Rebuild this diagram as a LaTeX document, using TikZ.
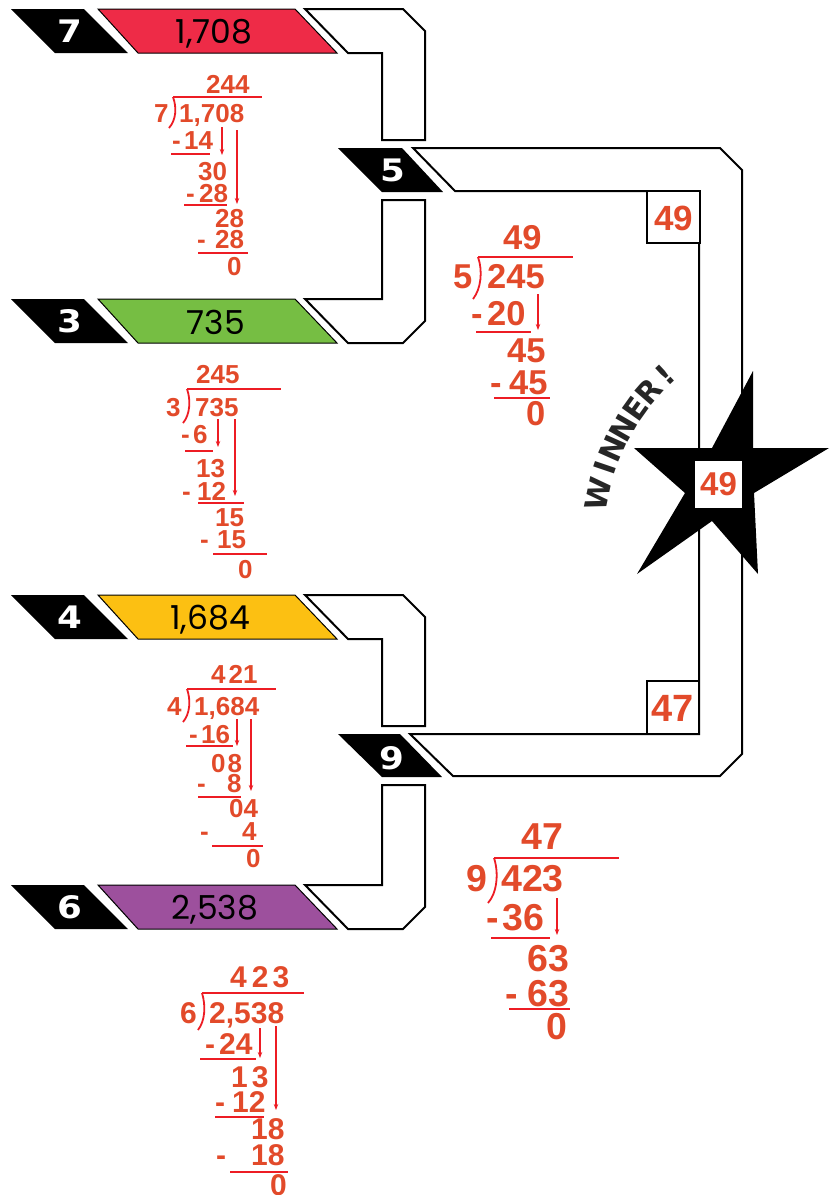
\documentclass[tikz,border=0pt]{standalone}
\usepackage{fontspec}
\setmainfont{Liberation Sans}
\newfontfamily\bandfont{Poppins}
\newfontfamily\tabfont[FakeStretch=1.15]{DejaVu Sans}
\newfontfamily\winfont{DejaVu Sans}
\usetikzlibrary{arrows.meta}
\definecolor{bandred}{RGB}{238,43,71}
\definecolor{bandgreen}{RGB}{118,190,67}
\definecolor{bandyellow}{RGB}{252,192,18}
\definecolor{bandpurple}{RGB}{157,80,157}
\definecolor{divtxt}{RGB}{226,74,42}
\definecolor{divline}{RGB}{237,28,36}
\begin{document}
\begin{tikzpicture}[x=1pt,y=-1pt,
  pipe/.style={draw=black, line width=2pt, fill=white, line join=miter},
  tabshape/.style={fill=black},
  band/.style={draw=black, line width=1pt},
  tabnum/.style={text=white, font=\tabfont\bfseries\fontsize{31}{31}\selectfont, inner sep=0pt},
  bandnum/.style={text=black, font=\bandfont\fontsize{33}{33}\selectfont, inner sep=0pt, anchor=base},
  dA/.style={text=divtxt, inner sep=0pt, anchor=base west, font=\bfseries\fontsize{26}{26}\selectfont},
  dB/.style={dA, font=\bfseries\fontsize{30}{30}\selectfont},
  dC/.style={dA, font=\bfseries\fontsize{34.5}{34.5}\selectfont},
  dD/.style={dA, font=\bfseries\fontsize{37.5}{37.5}\selectfont},
  divrule/.style={draw=divline, line width=2.6pt},
  overbar/.style={draw=divline, line width=2pt},
  brk/.style={draw=divline, line width=1.8pt},
  dar/.style={draw=divline, line width=1.3pt, -{Stealth[length=6pt,width=4.5pt]}},
  ansbox/.style={draw=black, line width=1.5pt, fill=white},
  boxnum/.style={text=divtxt, font=\bfseries\fontsize{35}{35}\selectfont, inner sep=0pt},
  winl/.style={text=black!85, font=\winfont\bfseries\fontsize{30}{30}\selectfont, inner sep=0pt}
]
\useasboundingbox (0,0) rectangle (832,1195);

% ---------- right bracket ----------
\draw[pipe] (413,148) -- (720,148) -- (742,170) -- (742,754) -- (720,776) -- (453,776) -- (410,734) -- (699,734) -- (699,191) -- (455,191) -- cycle;
\draw[ansbox] (647,191) rectangle (700,243);
\node[boxnum] (b49) at (673.5,218) {49};
\draw[ansbox] (647,681) rectangle (699,734);
\node[boxnum, font=\bfseries\fontsize{38}{38}\selectfont] (b47) at (673,708.5) {47};

% star
\fill[black] (753,371) -- (753,448) -- (829,448) -- (754,493) -- (758,574) -- (712,521) -- (637,574) -- (685,493) -- (634,448) -- (712,448) -- cycle;
\fill[white] (695,461) rectangle (742,508);
\node[boxnum, font=\bfseries\fontsize{33}{33}\selectfont] (s49) at (718.5,484.5) {49};

% WINNER!
\foreach \ch/\a [count=\i] in {W/168.0,I/161.2,N/156.0,N/150.2,E/144.5,R/139.0,!/133.0}
  \node[winl, rotate={\a-90}] (win\i) at ({820+227*cos(\a)},{541-227*sin(\a)}) {\ch};

% ---------- row 1 ----------
\fill[tabshape] (11,9) -- (84,9) -- (128,53) -- (55,53) -- cycle;
\node[tabnum] (t7) at (70,31) {7};
\draw[band, fill=bandred] (98,9) -- (295,9) -- (337,53) -- (138,53) -- cycle;
\node[bandnum] (n1708) at (214,43) {1,708};
\draw[pipe] (305,9) -- (403,9) -- (425,31) -- (425,140) -- (382,140) -- (382,53) -- (348,53) -- cycle;

% ---------- row 2 ----------
\fill[tabshape] (11,299) -- (84,299) -- (128,343) -- (55,343) -- cycle;
\node[tabnum] (t3) at (70,321) {3};
\draw[band, fill=bandgreen] (98,299) -- (295,299) -- (337,343) -- (138,343) -- cycle;
\node[bandnum] (n735) at (216,334) {735};
\draw[pipe] (382,200) -- (425,200) -- (425,321) -- (403,343) -- (348,343) -- (305,299) -- (382,299) -- cycle;

% ---------- row 3 ----------
\fill[tabshape] (11,595) -- (84,595) -- (128,639) -- (55,639) -- cycle;
\node[tabnum] (t4) at (70,617) {4};
\draw[band, fill=bandyellow] (98,595) -- (295,595) -- (337,639) -- (138,639) -- cycle;
\node[bandnum] (n1684) at (210,629) {1,684};
\draw[pipe] (305,595) -- (403,595) -- (425,617) -- (425,726) -- (382,726) -- (382,639) -- (348,639) -- cycle;

% ---------- row 4 ----------
\fill[tabshape] (11,885) -- (84,885) -- (128,929) -- (55,929) -- cycle;
\node[tabnum] (t6) at (70,907) {6};
\draw[band, fill=bandpurple] (98,885) -- (295,885) -- (337,929) -- (138,929) -- cycle;
\node[bandnum] (n2538) at (215,919) {2,538};
\draw[pipe] (382,785) -- (425,785) -- (425,907) -- (403,929) -- (348,929) -- (305,885) -- (382,885) -- cycle;

% ---------- middle tabs ----------
\fill[tabshape] (338,148) -- (402,148) -- (443,192) -- (382,192) -- cycle;
\node[tabnum] (t5) at (393,170) {5};
\fill[tabshape] (338,734) -- (400,734) -- (442,777) -- (382,777) -- cycle;
\node[tabnum] (t9) at (392,758) {9};

% ---------- division 1: 1708 / 7 ----------
\node[dA] (q1) at (206,93) {244};
\draw[overbar] (173,97) -- (262,97);
\node[dA] (v1) at (154,122) {7};
\draw[brk] (173,97) .. controls (177,108) and (176,120) .. (169,128);
\node[dA] (w1) at (179,122) {1,708};
\node[dA] (m1a) at (172,149) {-};
\node[dA] (r1a) at (184,149) {14};
\draw[divrule] (171,154) -- (210,154);
\draw[dar] (222,127) -- (222,155);
\draw[dar] (237,130) -- (237,204);
\node[dA] (r1b) at (198,180) {30};
\node[dA] (m1b) at (186,202) {-};
\node[dA] (r1c) at (199,202) {28};
\draw[divrule] (184,205) -- (227,205);
\node[dA] (r1d) at (215,227) {28};
\node[dA] (m1c) at (197,248) {-};
\node[dA] (r1e) at (215,248) {28};
\draw[divrule] (198,253) -- (248,253);
\node[dA] (r1f) at (227,275) {0};

% ---------- division 2: 735 / 3 ----------
\node[dA] (q2) at (196,383) {245};
\draw[overbar] (187,389) -- (281,389);
\node[dA] (v2) at (166,416) {3};
\draw[brk] (187,389) .. controls (191,400) and (190,415) .. (183,423);
\node[dA] (w2) at (195,416) {735};
\node[dA] (m2a) at (181,443) {-};
\node[dA] (r2a) at (193,443) {6};
\draw[divrule] (185,451) -- (213,451);
\draw[dar] (218,419) -- (218,447);
\draw[dar] (235,419) -- (235,496);
\node[dA] (r2b) at (196,477) {13};
\node[dA] (m2b) at (182,500) {-};
\node[dA] (r2c) at (197,500) {12};
\draw[divrule] (198,503) -- (244,503);
\node[dA] (r2d) at (215,526) {15};
\node[dA] (m2c) at (200,548) {-};
\node[dA] (r2e) at (217,548) {15};
\draw[divrule] (213,554) -- (267,554);
\node[dA] (r2f) at (238,578) {0};

% ---------- division 3: 1684 / 4 ----------
\node[dA] (q3) at (211,683) {4\kern3pt21};
\draw[overbar] (187,689) -- (276,689);
\node[dA] (v3) at (167,715) {4};
\draw[brk] (187,689) .. controls (191,700) and (190,714) .. (183,722);
\node[dA] (w3) at (194,715) {1,684};
\node[dA] (m3a) at (189,743) {-};
\node[dA] (r3a) at (201,743) {16};
\draw[divrule] (186,746) -- (233,746);
\draw[dar] (237,719) -- (237,746);
\draw[dar] (251,719) -- (251,791);
\node[dA] (r3b) at (211,772) {0\kern2pt8};
\node[dA] (m3b) at (197,792) {-};
\node[dA] (r3c) at (227,792) {8};
\draw[divrule] (198,797) -- (241,797);
\node[dA] (r3d) at (229,817) {04};
\node[dA] (m3c) at (200,840) {-};
\node[dA] (r3e) at (242,840) {4};
\draw[divrule] (212,846) -- (263,846);
\node[dA] (r3f) at (246,867) {0};

% ---------- division 4: 2538 / 6 ----------
\node[dB] (q4) at (230,987) {4\kern5pt2\kern4pt3};
\draw[overbar] (202,993) -- (304,993);
\node[dB] (v4) at (180,1023) {6};
\draw[brk] (202,993) .. controls (206,1006) and (205,1021) .. (198,1030);
\node[dB] (w4) at (209,1023) {2,538};
\node[dB] (m4a) at (205,1054) {-};
\node[dB] (r4a) at (219,1054) {24};
\draw[divrule] (200,1059) -- (256,1059);
\draw[dar] (260,1028) -- (260,1058);
\draw[dar] (276,1026) -- (276,1110);
\node[dB] (r4b) at (231,1087) {1\kern4pt3};
\node[dB] (m4b) at (215,1112) {-};
\node[dB] (r4c) at (232,1112) {12};
\draw[divrule] (215,1117) -- (264,1117);
\node[dB] (r4d) at (251,1139) {18};
\node[dB] (m4c) at (216,1165) {-};
\node[dB] (r4e) at (251,1165) {18};
\draw[divrule] (230,1172) -- (288,1172);
\node[dB] (r4f) at (270,1195) {0};

% ---------- division 5: 245 / 5 ----------
\node[dC] (q5) at (503,249) {49};
\draw[overbar] (478,257) -- (573,257);
\node[dC] (v5) at (453,288) {5};
\draw[brk] (478,257) .. controls (483,271) and (481,289) .. (473,299);
\node[dC] (w5) at (487,288) {245};
\node[dC] (m5a) at (471,325) {-};
\node[dC] (r5a) at (487,325) {20};
\draw[divrule] (476,332) -- (531,332);
\draw[dar] (538,294) -- (538,330);
\node[dC] (r5b) at (507,362) {45};
\node[dC] (m5b) at (490,394) {-};
\node[dC] (r5c) at (509,394) {45};
\draw[divrule] (494,398) -- (550,398);
\node[dC] (r5d) at (526,425) {0};

% ---------- division 6: 423 / 9 ----------
\node[dD] (q6) at (521,849) {47};
\draw[overbar] (494,858) -- (619,858);
\node[dD] (v6) at (466,891) {9};
\draw[brk] (494,858) .. controls (499,873) and (497,893) .. (488,903);
\node[dD] (w6) at (501,891) {423};
\node[dD] (m6a) at (486,930) {-};
\node[dD] (r6a) at (502,930) {36};
\draw[divrule] (491,938) -- (550,938);
\draw[dar] (557,898) -- (557,935);
\node[dD] (r6b) at (527,971) {63};
\node[dD] (m6b) at (505,1006) {-};
\node[dD] (r6c) at (527,1006) {63};
\draw[divrule] (509,1009) -- (570,1009);
\node[dD] (r6d) at (546,1039) {0};
\end{tikzpicture}
\end{document}
